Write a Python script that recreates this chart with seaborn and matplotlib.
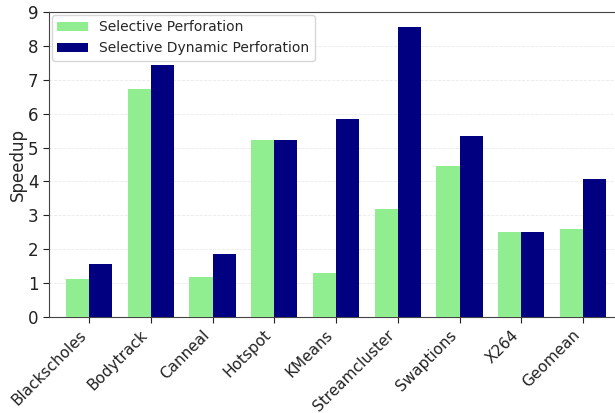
import pandas as pd
import matplotlib.pyplot as plt
import seaborn as sns

# Benchmarks and speedups
benchmarks = ['Blackscholes', 'Bodytrack', 'Canneal', 'Hotspot', 'KMeans',
              'Streamcluster', 'Swaptions', 'X264', 'Geomean']
selective = [1.13, 6.72, 1.18, 5.21, 1.31, 3.19, 4.47, 2.50, 2.61]
selective_dynamic = [1.55, 7.43, 1.85, 5.21, 5.85, 8.55, 5.35, 2.50, 4.06]
series_names = ['Selective Perforation', 'Selective Dynamic Perforation']

sns.set_style('ticks')
plt.rcParams['font.family'] = ['DejaVu Sans']

df = pd.DataFrame({
    'Benchmark': benchmarks * 2,
    'Speedup': selective + selective_dynamic,
    'Technique': [series_names[0]] * len(benchmarks) + [series_names[1]] * len(benchmarks),
})

fig = plt.figure(figsize=(6.15, 4.13), dpi=100)
ax = fig.add_axes([0.0797, 0.2324, 0.9203, 0.7385])

sns.barplot(data=df, x='Benchmark', y='Speedup', hue='Technique',
            palette=['lightgreen', 'navy'], width=0.75, linewidth=0,
            saturation=1, ax=ax, zorder=3)

ax.set_xlim(-0.648, 8.518)
ax.set_ylim(0, 9)
ax.set_yticks(range(0, 10))
ax.set_xlabel('')
ax.set_ylabel('Speedup', fontsize=12, labelpad=1)
ax.tick_params(axis='both', colors='#222222', length=4)
ax.tick_params(axis='y', labelsize=12)
ax.tick_params(axis='x', labelsize=11)
plt.setp(ax.get_xticklabels(), rotation=45, ha='right')
ax.grid(axis='y', linestyle='--', color='#dddddd', linewidth=0.6, alpha=0.6, zorder=0)

for side in ['left', 'bottom', 'top']:
    ax.spines[side].set_color('#444444')
ax.spines['right'].set_visible(False)

ax.legend(loc='upper left', fontsize=10, title=None, frameon=True,
          borderaxespad=0.2, handlelength=2.2)

fig.savefig('out.png', dpi=100)
